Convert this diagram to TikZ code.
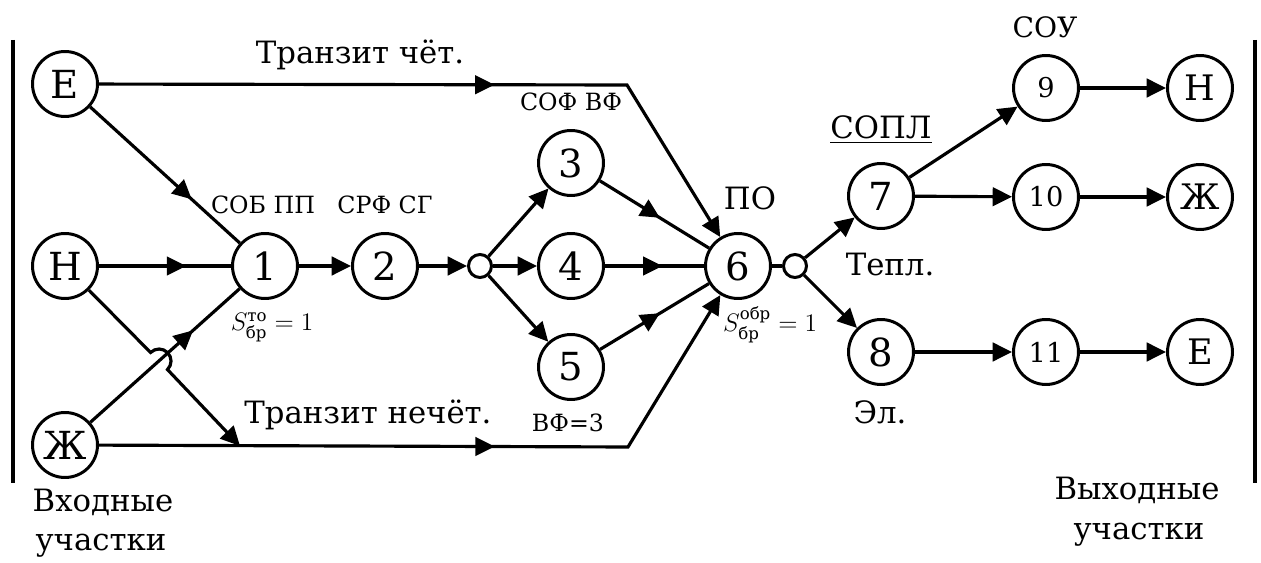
\documentclass[tikz,border=0pt]{standalone}
\usepackage{amsmath}
\usepackage{fontspec}
\setmainfont{DejaVu Serif}
\usetikzlibrary{arrows.meta,decorations.markings,calc}
\tikzset{
  big/.style={circle,draw,line width=1.7pt,minimum size=1.3cm,inner sep=0pt,font=\fontsize{22}{22}\selectfont},
  lett/.style={big,font=\fontsize{22}{22}\selectfont},
  sml/.style={big,font=\fontsize{15.5}{15.5}\selectfont},
  jn/.style={circle,draw,fill=white,line width=1.7pt,minimum size=0.46cm,inner sep=0pt},
  lbl/.style={font=\fontsize{17.5}{17.5}\selectfont,inner sep=0pt},
  tag/.style={font=\fontsize{13.5}{13.5}\selectfont,inner sep=0pt},
  mth/.style={font=\fontsize{13.5}{13.5}\selectfont,inner sep=0pt},
  bar/.style={line width=2pt},
  marr/.style={postaction={decorate},decoration={markings,mark=at position #1 with {\arrow{Triangle[length=11pt,width=10.5pt]}}}}
}
\begin{document}
\begin{tikzpicture}[x=0.02cm,y=-0.02cm,line width=1.8pt,>={Triangle[length=11pt,width=10.5pt]}]
\useasboundingbox (0,0) rectangle (1261,563);
% bars
\draw[bar] (13,40) -- (13,483);
\draw[bar] (1255,40) -- (1255,483);
% coordinates
\coordinate (b1) at (627,85);
\coordinate (b2) at (628,447);
\coordinate (t1) at (240,446);
\coordinate (hA) at (150.6,352.5);
% nodes
\node[lett] (El) at (65,84) {Е};
\node[lett] (Hl) at (65,266) {Н};
\node[lett] (Zl) at (65,445) {Ж};
\node[big] (n1) at (265,266) {1};
\node[big] (n2) at (385,266) {2};
\node[jn] (j1) at (480,266) {};
\node[big] (n3) at (571,163) {3};
\node[big] (n4) at (571,266) {4};
\node[big] (n5) at (571,367) {5};
\node[big] (n6) at (738,266) {6};
\node[jn] (j2) at (795,266) {};
\node[big] (n7) at (881,196) {7};
\node[big] (n8) at (881,352) {8};
\node[sml] (n9) at (1046,88) {9};
\node[sml] (n10) at (1046,197) {10};
\node[sml] (n11) at (1046,352) {11};
\node[lett,font=\fontsize{20}{20}\selectfont] (Hr) at (1200,88) {Н};
\node[lett,font=\fontsize{20}{20}\selectfont] (Zr) at (1200,197) {Ж};
\node[lett,font=\fontsize{20}{20}\selectfont] (Er) at (1200,352) {Е};
% edges
\draw[->,marr=0.56] (El) -- (b1) -- (n6);
\draw[->,marr=0.56] (Zl) -- (b2) -- (n6);
\draw[marr=0.68] (El) -- (n1);
\draw[marr=0.66] (Hl) -- (n1);
\draw[marr=0.69] (Zl) -- (n1);
\draw[->] (Hl) -- (hA) arc[start angle=134.7,end angle=-45.3,radius=0.24cm] -- (t1);
\draw[->] (n1) -- (n2);
\draw[->] (n2) -- (j1);
\draw[->] (j1) -- (n3);
\draw[->] (j1) -- (n4);
\draw[->] (j1) -- (n5);
\draw[marr=0.55] (n3) -- (n6);
\draw[marr=0.58] (n4) -- (n6);
\draw[marr=0.55] (n5) -- (n6);
\draw (n6) -- (j2);
\draw[->] (j2) -- (n7);
\draw[->] (j2) -- (n8);
\draw[->] (n7) -- (n9);
\draw[->] (n7) -- (n10);
\draw[->] (n8) -- (n11);
\draw[->] (n9) -- (Hr);
\draw[->] (n10) -- (Zr);
\draw[->] (n11) -- (Er);
% labels
\node[lbl] (lt1) at (360,55) {Транзит чёт.};
\node[lbl] (lt2) at (368,415) {Транзит нечёт.};
\node[tag] (lsof) at (571,102) {СОФ ВФ};
\node[tag] (lsob) at (263,205) {СОБ ПП};
\node[tag] (lsrf) at (385,205) {СРФ СГ};
\node[tag] (lvf) at (568,423) {ВФ=3};
\node[lbl] (lpo) at (750,198) {ПО};
\node[lbl] (lsopl) at (881,130) {\underline{СОПЛ}};
\node[lbl] (ltepl) at (890,265) {Тепл.};
\node[lbl] (lel) at (880,412) {Эл.};
\node[lbl,font=\fontsize{16}{16}\selectfont] (lsou) at (1045,27) {СОУ};
\node[mth] (ls1) at (272,327) {$S^{\text{то}}_{\text{бр}} = 1$};
\node[mth] (ls2) at (770,325) {$S^{\text{обр}}_{\text{бр}} = 1$};
\node[lbl] (lin1) at (103,502) {Входные};
\node[lbl] (lin2) at (101,546) {участки};
\node[lbl] (lout1) at (1137,490) {Выходные};
\node[lbl] (lout2) at (1139,535) {участки};
\end{tikzpicture}
\end{document}
